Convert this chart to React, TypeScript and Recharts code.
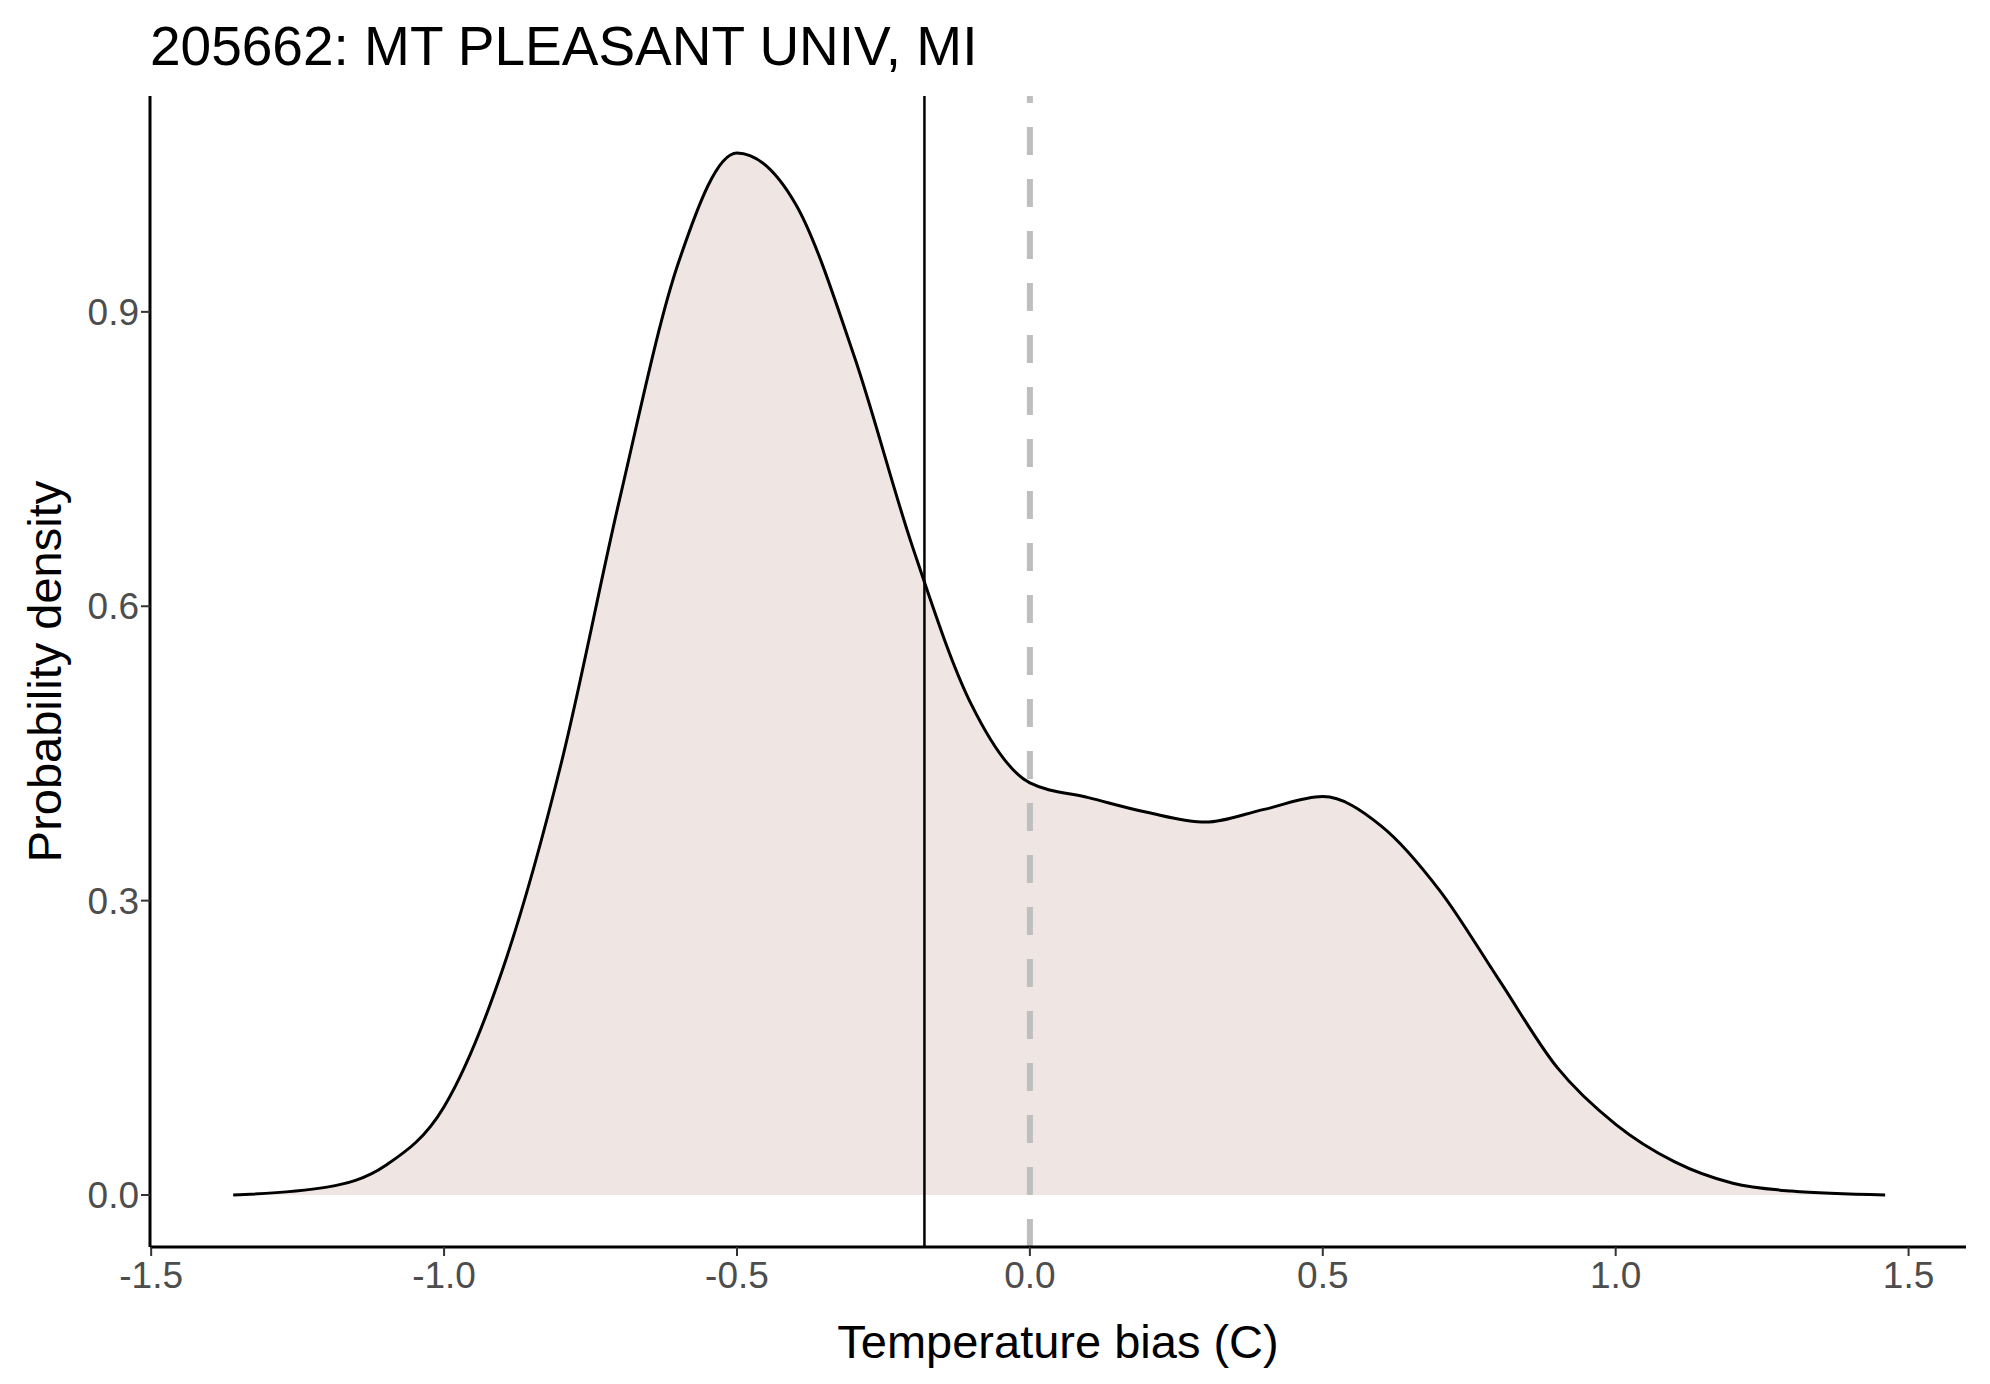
import { ComposedChart, Area, XAxis, YAxis, ReferenceLine } from 'recharts';

const biasValues = [-1.36, -1.2, -1.1, -1.0, -0.9, -0.8, -0.7, -0.6, -0.5, -0.4, -0.3, -0.2, -0.1, 0, 0.1, 0.2, 0.3, 0.4, 0.5, 0.6, 0.7, 0.8, 0.9, 1.0, 1.1, 1.2, 1.3, 1.46];
const densityValues = [0, 0.008, 0.03, 0.09, 0.23, 0.44, 0.71, 0.95, 1.062, 1.01, 0.855, 0.66, 0.5, 0.42, 0.405, 0.39, 0.38, 0.393, 0.406, 0.376, 0.31, 0.22, 0.13, 0.072, 0.034, 0.012, 0.004, 0];
const xTicks = [-1.5, -1.0, -0.5, 0, 0.5, 1.0, 1.5];
const yTicks = [0, 0.3, 0.6, 0.9];
const meanBias = -0.18;

const data = biasValues.map((x, i) => ({ x, density: densityValues[i] }));

const font = '"Liberation Sans", Arial, sans-serif';

export default function App() {
  return (
    <div style={{ position: 'absolute', top: 0, left: 0, width: 1990, height: 1384, background: '#fff', fontFamily: font }}>
      <div style={{ position: 'absolute', left: 150, top: 14, fontSize: 55, color: '#000', whiteSpace: 'nowrap' }}>
        205662: MT PLEASANT UNIV, MI
      </div>
      <ComposedChart width={1990} height={1384} data={data} margin={{ top: 96, right: 24, left: 0, bottom: 0 }}>
        <XAxis
          type="number"
          dataKey="x"
          domain={[-1.502, 1.598]}
          ticks={xTicks}
          tickFormatter={(v: number) => v.toFixed(1)}
          height={137}
          stroke="#000"
          strokeWidth={3}
          tickLine={{ stroke: '#333', strokeWidth: 2 }}
          tickSize={9}
          tick={{ fill: '#4d4d4d', fontSize: 37, fontFamily: font, dy: 4 }}
          label={{ value: 'Temperature bias (C)', position: 'insideBottom', offset: 26, fill: '#000', fontSize: 47, fontFamily: font }}
        />
        <YAxis
          type="number"
          domain={[-0.053, 1.12]}
          ticks={yTicks}
          tickFormatter={(v: number) => v.toFixed(1)}
          width={150}
          stroke="#000"
          strokeWidth={3}
          tickLine={{ stroke: '#333', strokeWidth: 2 }}
          tickSize={9}
          tick={{ fill: '#4d4d4d', fontSize: 37, fontFamily: font }}
          label={{ value: 'Probability density', angle: -90, position: 'insideLeft', offset: 44, fill: '#000', fontSize: 47, fontFamily: font, style: { textAnchor: 'middle' } }}
        />
        <Area
          type="monotone"
          dataKey="density"
          stroke="#000"
          strokeWidth={3}
          fill="#efe6e3"
          fillOpacity={1}
          baseValue={0}
          isAnimationActive={false}
        />
        <ReferenceLine x={meanBias} stroke="#000" strokeWidth={2.5} />
        <ReferenceLine x={0} stroke="#bebebe" strokeWidth={6} strokeDasharray="28 24" />
      </ComposedChart>
    </div>
  );
}
